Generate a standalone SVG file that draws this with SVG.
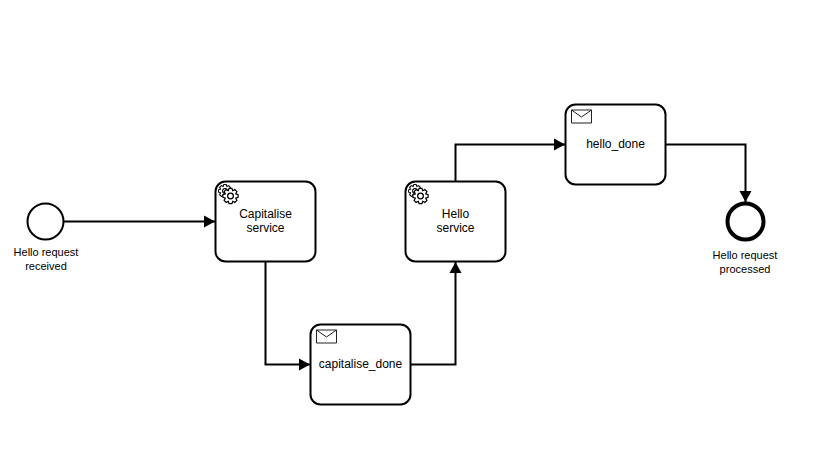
<svg xmlns="http://www.w3.org/2000/svg" xmlns:xlink="http://www.w3.org/1999/xlink" width="823" height="456" viewBox="0 0 823 456">
<style>
.task{fill:#fff;stroke:#000;stroke-width:2}
.flow{fill:none;stroke:#000;stroke-width:2}
.lbl{font-family:"Liberation Sans",Arial,sans-serif;font-size:12px;fill:#000;text-anchor:middle}
.sm{font-family:"Liberation Sans",Arial,sans-serif;font-size:11px;fill:#000;text-anchor:middle}
.ic{fill:#fff;stroke:#000;stroke-width:1.3}
.env{fill:#fff;stroke:#222;stroke-width:1}
</style>
<defs>
<marker id="arrow" markerUnits="userSpaceOnUse" markerWidth="13" markerHeight="14" refX="11" refY="7" orient="auto"><path d="M0 1L11 7L0 13Z" fill="#000"/></marker>
<g id="gear">
<path class="ic" d="M-1.5-8H1.500L2.300-5.540L4.600-6.720L6.720-4.600L5.540-2.300L8-1.500V1.500L5.540 2.300L6.720 4.600L4.600 6.720L2.300 5.540L1.500 8H-1.500L-2.300 5.540L-4.600 6.720L-6.720 4.600L-5.540 2.300L-8 1.500V-1.500L-5.540-2.300L-6.720-4.600L-4.600-6.720L-2.300-5.540Z"/>
<circle class="ic" cx="0" cy="0" r="3"/>
</g>
<path id="env" class="env" d="M0 0H20V13H0ZM0 0L10 7L20 0"/>
</defs>
<g id="connectors">
<path class="flow" marker-end="url(#arrow)" d="M64 221.500H215"/>
<path class="flow" marker-end="url(#arrow)" d="M265.500 262V364.500H310"/>
<path class="flow" marker-end="url(#arrow)" d="M411 364.500H455.500V262"/>
<path class="flow" marker-end="url(#arrow)" d="M455.500 181V144.500H565"/>
<path class="flow" marker-end="url(#arrow)" d="M666 144.500H745.500V202"/>
</g>
<g id="start"><circle cx="45.500" cy="221.500" r="18" fill="#fff" stroke="#000" stroke-width="2"/>
<text class="sm" x="46" y="255.500">Hello request</text><text class="sm" x="46" y="269.500">received</text></g>
<g id="capitalise-service"><rect class="task" x="215.500" y="181.500" width="100" height="80" rx="10"/>
<use xlink:href="#gear" href="#gear" transform="translate(225 191) scale(.8)"/><use xlink:href="#gear" href="#gear" transform="translate(230.500 196) scale(.95)"/>
<text class="lbl" x="265.500" y="217.500">Capitalise</text><text class="lbl" x="265.500" y="231.500">service</text></g>
<g id="capitalise-done"><rect class="task" x="310.500" y="324.500" width="100" height="80" rx="10"/>
<use xlink:href="#env" href="#env" transform="translate(316.500 330)"/>
<text class="lbl" x="360.500" y="368">capitalise_done</text></g>
<g id="hello-service"><rect class="task" x="405.500" y="181.500" width="100" height="80" rx="10"/>
<use xlink:href="#gear" href="#gear" transform="translate(415 191) scale(.8)"/><use xlink:href="#gear" href="#gear" transform="translate(420.500 196) scale(.95)"/>
<text class="lbl" x="455.500" y="217.500">Hello</text><text class="lbl" x="455.500" y="231.500">service</text></g>
<g id="hello-done"><rect class="task" x="565.500" y="104.500" width="100" height="80" rx="10"/>
<use xlink:href="#env" href="#env" transform="translate(571.500 110)"/>
<text class="lbl" x="615.500" y="148">hello_done</text></g>
<g id="end"><circle cx="745.500" cy="221.500" r="18" fill="#fff" stroke="#000" stroke-width="4"/>
<text class="sm" x="745" y="258.500">Hello request</text><text class="sm" x="745" y="272.500">processed</text></g>
</svg>
